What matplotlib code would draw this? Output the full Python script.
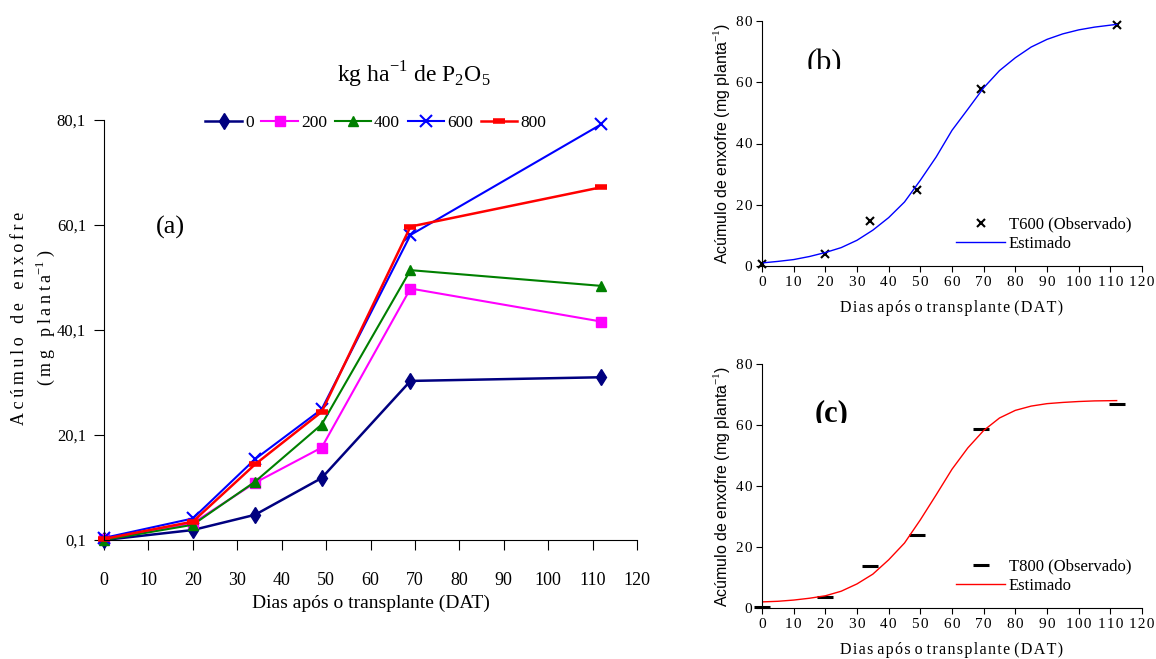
import matplotlib
matplotlib.use('Agg')
import matplotlib.pyplot as plt
from matplotlib.transforms import Bbox, TransformedBbox

plt.rcParams['font.family'] = ['Liberation Serif', 'DejaVu Serif']
plt.rcParams['mathtext.fontset'] = 'custom'
plt.rcParams['mathtext.rm'] = 'Liberation Serif'

# Painel (a) - dias após o transplante e acúmulo por dose de P2O5
dias = [0, 20, 34, 49, 69, 112]
doses = ['0', '200', '400', '600', '800']
s_0 = [0.1, 2.0, 4.9, 11.9, 30.4, 31.1]
s_200 = [0.3, 3.3, 11.0, 17.7, 48.0, 41.7]
s_400 = [0.1, 3.0, 11.2, 22.1, 51.5, 48.5]
s_600 = [0.5, 4.2, 15.5, 25.0, 58.2, 79.3]
s_800 = [0.3, 3.6, 14.5, 24.5, 59.8, 67.3]
yticks_a = [0.1, 20.1, 40.1, 60.1, 80.1]
yticklabels_a = ['0,1', '20,1', '40,1', '60,1', '80,1']

# Painel (b) - T600 observado e estimado
obs_b = [0.5, 4.0, 14.7, 24.7, 57.8, 78.8]
curva_x = [0, 5, 10, 15, 20, 25, 30, 35, 40, 45, 50, 55, 60, 65, 70, 75,
           80, 85, 90, 95, 100, 105, 112]
curva_b = [1.0, 1.5, 2.1, 3.1, 4.4, 6.0, 8.4, 11.7, 15.8, 20.9, 28.0, 35.6,
           44.3, 51.2, 58.2, 63.8, 68.0, 71.5, 74.0, 75.8, 77.1, 78.0, 78.9]

# Painel (c) - T800 observado e estimado
obs_c = [0.3, 3.5, 13.9, 23.9, 58.8, 66.9]
curva_c = [2.0, 2.2, 2.6, 3.2, 4.0, 5.5, 7.9, 11.1, 15.8, 21.3, 28.9, 37.1,
           45.5, 52.5, 58.2, 62.3, 64.8, 66.2, 67.0, 67.4, 67.7, 67.9, 68.0]

W, H = 1156, 659
fig = plt.figure(figsize=(W / 100, H / 100), dpi=100)

THIN = '\u2009'
HAIR = '\u200a'


def espacado(s, sep, entre=' '):
    return entre.join(sep.join(p) for p in s.split(' '))


def frac(left, top, right, bottom):
    return [left / W, 1 - bottom / H, (right - left) / W, (bottom - top) / H]


# ---- (a)
ax = fig.add_axes(frac(104, 120, 637, 540))
estilos = [
    (s_0, '#000080', 'd', dict(markersize=8, linewidth=1.8)),
    (s_200, '#FF00FF', 's', dict(markersize=6.5, linewidth=1.5)),
    (s_400, '#008000', '^', dict(markersize=7.5, linewidth=1.5)),
    (s_600, '#0000FF', 'x', dict(markersize=8, linewidth=1.5, markeredgewidth=1.5)),
    (s_800, '#FF0000', '_', dict(markersize=8, linewidth=1.8, markeredgewidth=4)),
]
for (vals, cor, mk, kw), lab in zip(estilos, doses):
    ax.plot(dias, vals, color=cor, marker=mk, label=lab, clip_on=False, **kw)

ax.set_xlim(0, 120)
ax.set_ylim(0.1, 80.1)
ax.set_xticks(range(0, 121, 10))
ax.set_yticks(yticks_a)
ax.set_yticklabels(yticklabels_a)
for s in ['top', 'right']:
    ax.spines[s].set_visible(False)
ax.tick_params(direction='out', length=7, labelsize=13)
ax.tick_params(axis='y', pad=6, labelsize=12)
ax.tick_params(axis='x', pad=16)
ax.set_xlabel('Dias após o transplante (DAT)', fontsize=14, labelpad=4)
ax.legend(loc='center', bbox_to_anchor=(0.51, 0.993), ncol=5, frameon=False,
          fontsize=12.5, handlelength=2.1, handletextpad=0.17, columnspacing=0.45)
ax.text(0.124, 0.743, '(a)', transform=ax.transAxes, fontsize=19,
        ha='center', va='center')
fig.text(414 / W, 1 - 75 / H, 'kg ha$^{-1}$ de P$_2$O$_5$', fontsize=17,
         ha='center', va='center')
fig.text(20 / W, 1 - 318 / H, espacado('Acúmulo de enxofre', THIN, '   '),
         rotation=90, fontsize=13, ha='center', va='center')
fig.text(45 / W, 1 - 318 / H, '(' + THIN + 'm' + THIN + 'g   ' + espacado('planta', THIN)
         + '$^{-1}$' + THIN + ')', rotation=90, fontsize=13, ha='center', va='center')


def painel(pos, obs, curva, cor, mk, mkw, rotulo, letra, topo, corte, xl, negrito):
    axp = fig.add_axes(pos)
    axp.plot(dias, obs, linestyle='none', marker=mk, color='black', label=rotulo,
             clip_on=False, **mkw)
    axp.plot(curva_x, curva, color=cor, linewidth=1, label='Estimado')
    axp.set_xlim(0, 120)
    axp.set_ylim(0, 80)
    xt = list(range(0, 121, 10))
    yt = list(range(0, 81, 20))
    axp.set_xticks(xt)
    axp.set_xticklabels([HAIR.join(str(v)) for v in xt])
    axp.set_yticks(yt)
    axp.set_yticklabels([HAIR.join(str(v)) for v in yt])
    for s in ['top', 'right']:
        axp.spines[s].set_visible(False)
    axp.tick_params(direction='out', length=4, labelsize=11, pad=3)
    axp.set_xlabel(espacado('Dias após o transplante (DAT)', HAIR),
                   fontsize=11.5, labelpad=8)
    axp.set_ylabel('Acúmulo de enxofre (mg planta$^{-1}$)', family='Liberation Sans',
                   fontsize=11.5, labelpad=3)
    axp.legend(loc='lower left', bbox_to_anchor=(0.494, 0.03), frameon=False,
               fontsize=12, handlelength=2.9, handletextpad=0.25, labelspacing=0.2,
               borderaxespad=0)
    t = axp.text(xl, topo, letra, transform=axp.transAxes, fontsize=22, va='top',
                 fontweight='bold' if negrito else 'normal')
    t.set_clip_on(True)
    t.set_clip_box(TransformedBbox(Bbox([[0, corte], [1, 1.2]]), axp.transAxes))
    return axp


painel(frac(762, 21, 1142, 266), obs_b, curva_b, '#0000FF', 'x',
       dict(markersize=6, markeredgewidth=1.5), 'T600 (Observado)', '(b)',
       0.885, 0.803, 0.117, False)
painel(frac(762, 364, 1142, 608), obs_c, curva_c, '#FF0000', '_',
       dict(markersize=12, markeredgewidth=2.2), 'T800 (Observado)', '(c)',
       0.855, 0.760, 0.139, True)

fig.savefig('out.png', dpi=100)
